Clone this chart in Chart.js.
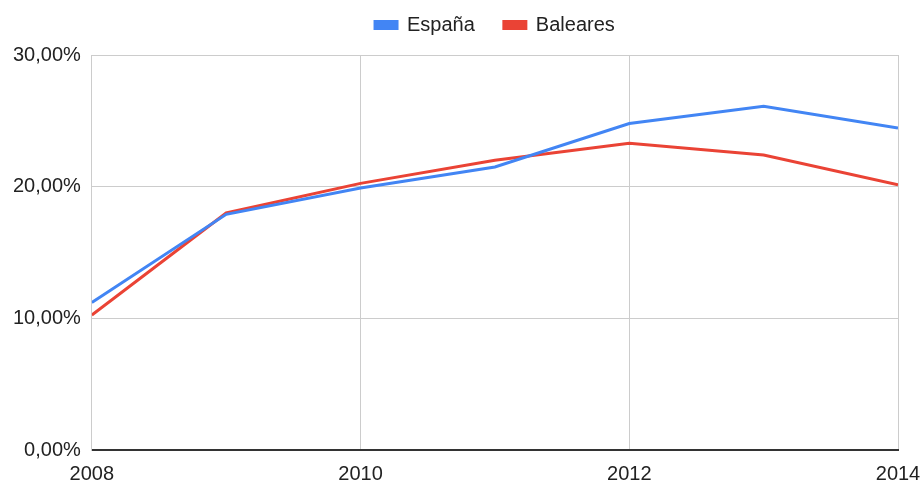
<!DOCTYPE html>
<html>
<head>
<meta charset="utf-8">
<script src="https://cdn.jsdelivr.net/npm/chart.js@4"></script>
<style>
  html, body { margin: 0; padding: 0; background: #fff; }
  #wrap { width: 922px; height: 482px; }
</style>
</head>
<body>
<div id="wrap"><canvas id="chart" width="922" height="482"></canvas></div>
<script>
const years = [2008, 2009, 2010, 2011, 2012, 2013, 2014];
const espana = [11.2, 17.9, 19.9, 21.5, 24.8, 26.1, 24.45];
const baleares = [10.25, 18.0, 20.25, 22.0, 23.3, 22.4, 20.15];
const yTicks = [0, 10, 20, 30];

const fmtPct = (v) => v.toFixed(2).replace(".", ",") + "%";
const FONT = { family: "'Liberation Sans', Arial, sans-serif", size: 20 };

// legend sits higher than chart.js would put it, with wide gaps between items
const legendSpacing = {
  id: "legendSpacing",
  beforeInit(chart) {
    const fit = chart.legend.fit;
    chart.legend.fit = function () {
      fit.call(this);
      this.height = 55;
    };
  },
  afterLayout(chart) {
    chart.legend.top -= 14;
    chart.legend.bottom -= 14;
  },
};

const ctx = document.getElementById("chart").getContext("2d");
new Chart(ctx, {
  type: "line",
  data: {
    datasets: [
      {
        label: "España",
        data: years.map((y, i) => ({ x: y, y: espana[i] })),
        borderColor: "#4285F4",
        backgroundColor: "#4285F4",
        borderWidth: 3,
        pointRadius: 0,
        tension: 0,
      },
      {
        label: "Baleares",
        data: years.map((y, i) => ({ x: y, y: baleares[i] })),
        borderColor: "#EA4335",
        backgroundColor: "#EA4335",
        borderWidth: 3,
        pointRadius: 0,
        tension: 0,
      },
    ],
  },
  plugins: [legendSpacing],
  options: {
    responsive: false,
    animation: false,
    layout: { padding: { left: 2, right: 0, top: 0, bottom: 0 } },
    plugins: {
      legend: {
        position: "top",
        fullSize: false,
        labels: {
          boxWidth: 22,
          boxHeight: 7,
          padding: 29,
          color: "#222",
          font: FONT,
        },
      },
      tooltip: { enabled: false },
    },
    scales: {
      x: {
        type: "linear",
        min: years[0],
        max: years[years.length - 1],
        afterBuildTicks: (axis) => {
          axis.ticks = years.filter((y, i) => i % 2 === 0).map((v) => ({ value: v }));
        },
        afterFit: (axis) => {
          axis.height = 32;
          axis.paddingRight = 24;
        },
        ticks: {
          color: "#222",
          font: FONT,
          padding: 12,
          maxRotation: 0,
          callback: (v) => String(v),
        },
        grid: { color: "#cccccc", drawTicks: false, lineWidth: 1 },
        border: { color: "#333333", width: 2 },
      },
      y: {
        min: 0,
        max: 30,
        afterBuildTicks: (axis) => {
          axis.ticks = yTicks.map((v) => ({ value: v }));
        },
        ticks: {
          color: "#222",
          font: FONT,
          padding: 11,
          callback: (v) => fmtPct(v),
        },
        grid: { color: "#cccccc", drawTicks: false, lineWidth: 1 },
        border: { color: "#cccccc", width: 1 },
      },
    },
  },
});
</script>
</body>
</html>
